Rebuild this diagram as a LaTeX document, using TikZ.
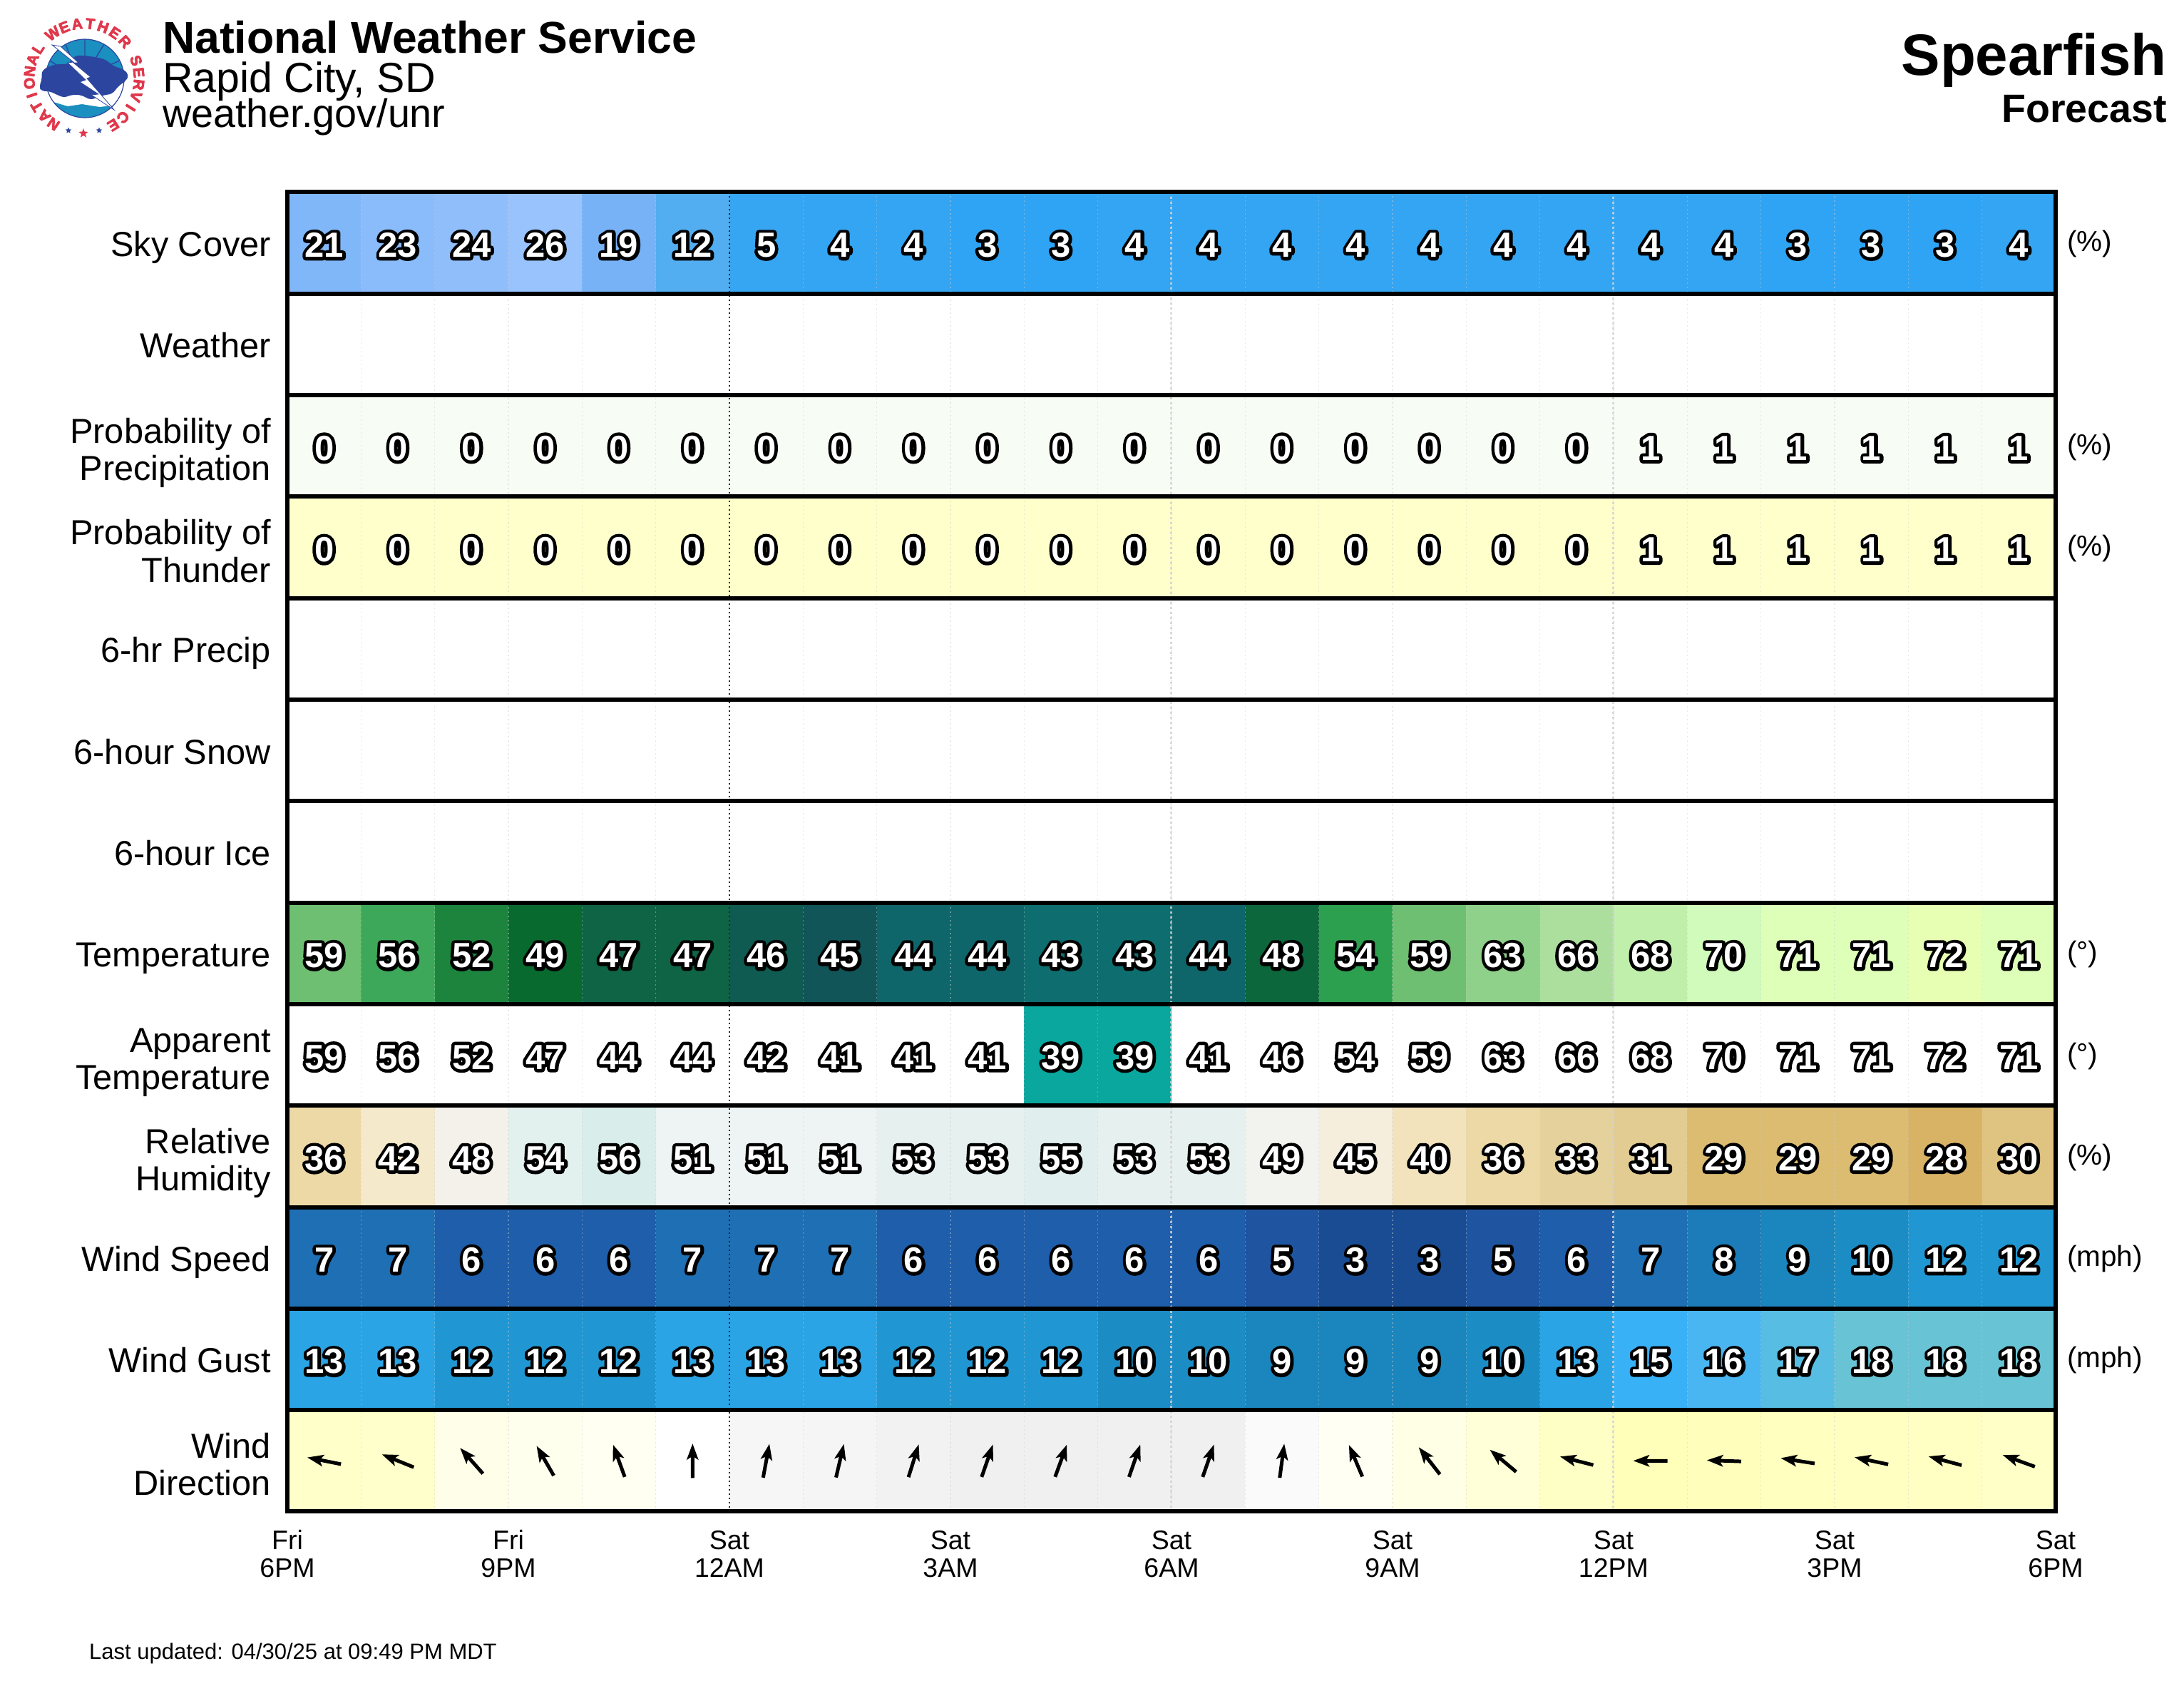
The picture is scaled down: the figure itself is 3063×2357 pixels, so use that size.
\documentclass[tikz,border=0pt]{standalone}
\usepackage{fontspec}
\usetikzlibrary{shapes.geometric}
\setmainfont{Liberation Sans}
\newfontface\numfont{Liberation Sans Bold}
\newfontface\numstroke[FakeBold=19]{Liberation Sans Bold}
\newfontface\boldface{Liberation Sans Bold}
\newfontface\logoface[FakeBold=4]{Liberation Sans Bold}
\newcommand{\fs}[1]{\fontsize{#1}{#1}\selectfont}
\newcommand{\numtxt}[1]{{\fs{49}\rlap{\color{black}\numstroke #1}\color{white}\numfont #1}}
\definecolor{sky21}{HTML}{80B7F9}\definecolor{sky23}{HTML}{8ABBFB}\definecolor{sky24}{HTML}{8FBEFB}
\definecolor{sky26}{HTML}{98C3FC}\definecolor{sky19}{HTML}{78B2F6}\definecolor{sky12}{HTML}{52AEF0}
\definecolor{sky5}{HTML}{36A6F2}\definecolor{sky4}{HTML}{33A5F3}\definecolor{sky3}{HTML}{30A4F4}
\definecolor{tmp59}{HTML}{6FBF72}\definecolor{tmp56}{HTML}{3DA85A}\definecolor{tmp52}{HTML}{1D843E}
\definecolor{tmp49}{HTML}{096A30}\definecolor{tmp47}{HTML}{0E6444}\definecolor{tmp46}{HTML}{105B51}
\definecolor{tmp45}{HTML}{115558}\definecolor{tmp44}{HTML}{0F666A}\definecolor{tmp43}{HTML}{0E6E6F}
\definecolor{tmp48}{HTML}{0C673C}\definecolor{tmp54}{HTML}{2DA050}\definecolor{tmp63}{HTML}{8FD18A}
\definecolor{tmp66}{HTML}{ACDE9E}\definecolor{tmp68}{HTML}{BFEFAB}\definecolor{tmp70}{HTML}{D0FBBA}
\definecolor{tmp71}{HTML}{DEFFB8}\definecolor{tmp72}{HTML}{E6FFB3}
\definecolor{rh36}{HTML}{EDD9A6}\definecolor{rh42}{HTML}{F4E9CB}\definecolor{rh48}{HTML}{F3F1EA}
\definecolor{rh54}{HTML}{E3F1EE}\definecolor{rh56}{HTML}{D9EDEB}\definecolor{rh51}{HTML}{EEF3F3}
\definecolor{rh53}{HTML}{E6F0EF}\definecolor{rh55}{HTML}{E0EFEE}\definecolor{rh49}{HTML}{F2F2EF}
\definecolor{rh45}{HTML}{F5EEDC}\definecolor{rh40}{HTML}{F2E3BD}\definecolor{rh33}{HTML}{E5D19C}
\definecolor{rh31}{HTML}{E2CC92}\definecolor{rh29}{HTML}{DCBC71}\definecolor{rh28}{HTML}{D8B366}
\definecolor{rh30}{HTML}{DFC380}
\definecolor{wnd3}{HTML}{1A4C93}\definecolor{wnd5}{HTML}{1F55A0}\definecolor{wnd6}{HTML}{1E5EAA}
\definecolor{wnd7}{HTML}{1F6FB4}\definecolor{wnd8}{HTML}{1C7CB9}\definecolor{wnd9}{HTML}{1B85BE}
\definecolor{wnd10}{HTML}{1C8CC5}\definecolor{wnd12}{HTML}{2097D3}\definecolor{wnd13}{HTML}{2AA4E5}
\definecolor{wnd15}{HTML}{38B1F7}\definecolor{wnd16}{HTML}{4AB6F1}\definecolor{wnd17}{HTML}{58BDE2}
\definecolor{wnd18}{HTML}{68C4D5}
\definecolor{popc}{HTML}{F7FCF5}\definecolor{thuc}{HTML}{FFFFCC}\definecolor{appteal}{HTML}{0AA79E}
\definecolor{logored}{HTML}{E0384C}\definecolor{logoblue}{HTML}{2C469F}\definecolor{logoteal}{HTML}{1A8FC0}
\newcommand{\colx}[1]{403+103.33*(#1)}
\newcommand{\rowy}[1]{269.5+142.3*(#1)}
\newcommand{\rowfill}[3]{\foreach \v [count=\c] in {#3}{%
  \fill[fill=#2\v] ({\colx{\c-1}},{\rowy{#1-1}}) rectangle ({\colx{\c}},{\rowy{#1}});}}
\newcommand{\rownums}[2]{\foreach \v [count=\c] in {#2}{%
  \node[numnode] (n#1-\c) at ({\colx{\c-0.5}},{\rowy{#1-0.5}+20}) {\numtxt{\v}};}}
\newcommand{\rowlabel}[3]{\node[rowlab] (lab#1) at (380,{\rowy{#1-0.5}+19}) {#2};}
\newcommand{\rowlabeltwo}[3]{\node[rowlab] (lab#1a) at (380,{\rowy{#1-0.5}-4}) {#2};
  \node[rowlab] (lab#1b) at (380,{\rowy{#1-0.5}+48.5}) {#3};}
\newcommand{\unitlab}[2]{\node[unitlabel] (unit#1) at (2899,{\rowy{#1-0.5}+12}) {#2};}
\newcommand{\ticklab}[3]{\node[ticklabel] (tickd#1) at ({\colx{#1}},2172) {#2};
  \node[ticklabel] (tickt#1) at ({\colx{#1}},2211) {#3};}
\tikzset{
  numnode/.style={anchor=base,inner sep=0pt,outer sep=0pt},
  rowlab/.style={anchor=base east,inner sep=0pt,font=\fs{48.7}},
  unitlabel/.style={anchor=base west,inner sep=0pt,font=\fs{40.5}},
  ticklabel/.style={anchor=base,inner sep=0pt,font=\fs{37.5}},
  hourline/.style={draw=lightgray!80,line width=1.5pt,dash pattern=on 2pt off 4pt,opacity=.45},
  midline/.style={draw=black!85,line width=2pt,dash pattern=on 2pt off 4pt},
  sixline/.style={draw=lightgray!70,line width=3pt,dash pattern=on 3pt off 4pt,opacity=.8},
  rowline/.style={draw=black,line width=6pt},
  logoletter/.style={text=logored,inner sep=0pt,font=\logoface\fs{21}},
}
\begin{document}
\begin{tikzpicture}[x=1pt,y=-1pt,line join=round]
\useasboundingbox (0,0) rectangle (3063,2357);
\fill[white] (0,0) rectangle (3063,2357);
% logo
\begin{scope}
 \clip (119,110) circle (55);
 \fill[logoteal] (119,110) circle (55);
 \fill[white] (60,122) -- (178,110) -- (178,130) -- (165,147) -- (140,150) -- (115,146) -- (95,149) -- (75,143) -- (60,140) -- cycle;
 \draw[logoblue,line width=1.4pt] (119,55) -- (119,85) (92,62) -- (101,85) (146,62) -- (132,85) (70,85) -- (85,95) (168,85) -- (152,92);
\end{scope}
\draw[logoblue,line width=1.2pt] (119,110) circle (55);
\fill[logoblue,rounded corners=5pt] (55,122) -- (59,110) -- (58,100) -- (68,93) -- (80,90) -- (95,90) -- (105,78) -- (120,78) -- (133,80) -- (147,83) -- (160,93) -- (173,97) -- (181,105) -- (177,113) -- (167,120) -- (157,132) -- (147,133) -- (127,140) -- (113,133) -- (100,133) -- (90,137) -- (80,133) -- (70,128) -- (58,128) -- cycle;
\filldraw[fill=white,draw=logoblue,line width=.8pt,line join=miter] (73,63) -- (85,65) -- (110,88) -- (103,88) -- (127,108) -- (122,110) -- (160,154) -- (128,133) -- (138,132) -- (112,115) -- (120,112) -- (95,88) -- (103,87) -- cycle;
\foreach \a/\l [count=\i] in {-146/N,-133.3/A,-120.6/T,-107.9/I,-95.2/O,-82.5/N,-69.8/A,-57/L,-35/W,-21.2/E,-7.4/A,6.4/T,20.2/H,34/E,48/R,71/S,83.8/E,96.6/R,109.4/V,122.2/I,135/C,148/E}{
  \node[logoletter,rotate=-\a] (logo\i) at ({118+77*sin(\a)},{110-77*cos(\a)}) {\l};}
\node[star,star points=5,star point ratio=2.4,fill=logored,inner sep=0pt,minimum size=14pt] (starc) at (117,187) {};
\node[star,star points=5,star point ratio=2.2,fill=logoblue,inner sep=0pt,minimum size=9pt] (starl) at (96,183) {};
\node[star,star points=5,star point ratio=2.2,fill=logoblue,inner sep=0pt,minimum size=9pt] (starr) at (139,183) {};
% titles
\node[anchor=base west,inner sep=0pt,font=\boldface\fs{62.5}] (nws) at (228,75) {National Weather Service};
\node[anchor=base west,inner sep=0pt,font=\fs{59}] (office) at (228,130) {Rapid City, SD};
\node[anchor=base west,inner sep=0pt,font=\fs{55.7}] (web) at (228,179) {weather.gov/unr};
\node[anchor=base east,inner sep=0pt,font=\boldface\fs{81.7}] (place) at (3039,106) {Spearfish};
\node[anchor=base east,inner sep=0pt,font=\boldface\fs{55.5}] (fcst) at (3039,172) {Forecast};
% cells
\rowfill{1}{sky}{21,23,24,26,19,12,5,4,4,3,3,4,4,4,4,4,4,4,4,4,3,3,3,4}
\fill[popc] ({\colx{0}},{\rowy{2}}) rectangle ({\colx{24}},{\rowy{3}});
\fill[thuc] ({\colx{0}},{\rowy{3}}) rectangle ({\colx{24}},{\rowy{4}});
\rowfill{8}{tmp}{59,56,52,49,47,47,46,45,44,44,43,43,44,48,54,59,63,66,68,70,71,71,72,71}
\fill[appteal] ({\colx{10}},{\rowy{8}}) rectangle ({\colx{12}},{\rowy{9}});
\rowfill{10}{rh}{36,42,48,54,56,51,51,51,53,53,55,53,53,49,45,40,36,33,31,29,29,29,28,30}
\rowfill{11}{wnd}{7,7,6,6,6,7,7,7,6,6,6,6,6,5,3,3,5,6,7,8,9,10,12,12}
\rowfill{12}{wnd}{13,13,12,12,12,13,13,13,12,12,12,10,10,9,9,9,10,13,15,16,17,18,18,18}
\foreach \h [count=\c] in {FFFFC9,FFFFCB,FFFFE9,FFFFED,FFFFF2,FFFFFF,F6F6F6,F5F5F5,F2F2F2,F0F0F0,F0F0F0,F0F0F0,F0F0F0,FAFAFA,FFFFF4,FFFFE6,FFFFD8,FDFFC4,FFFFBA,FFFFBB,FFFFC0,FFFFC2,FFFFC4,FFFFC8}{
  \definecolor{dirc}{HTML}{\h}
  \fill[dirc] ({\colx{\c-1}},{\rowy{12}}) rectangle ({\colx{\c}},{\rowy{13}});}
% grid
\foreach \k in {1,...,23}{\draw[hourline] ({\colx{\k}},{\rowy{0}}) -- ({\colx{\k}},{\rowy{13}});}
\foreach \k in {12,18}{\draw[sixline] ({\colx{\k}},{\rowy{0}}) -- ({\colx{\k}},{\rowy{13}});}
\draw[midline] ({\colx{6}},{\rowy{0}}) -- ({\colx{6}},{\rowy{13}});
% rows and frame
\foreach \r in {1,...,12}{\draw[rowline] ({\colx{0}},{\rowy{\r}}) -- ({\colx{24}},{\rowy{\r}});}
\draw[rowline,line join=miter] ({\colx{0}},{\rowy{0}}) rectangle ({\colx{24}},{\rowy{13}});
% numbers
\rownums{1}{21,23,24,26,19,12,5,4,4,3,3,4,4,4,4,4,4,4,4,4,3,3,3,4}
\rownums{3}{0,0,0,0,0,0,0,0,0,0,0,0,0,0,0,0,0,0,1,1,1,1,1,1}
\rownums{4}{0,0,0,0,0,0,0,0,0,0,0,0,0,0,0,0,0,0,1,1,1,1,1,1}
\rownums{8}{59,56,52,49,47,47,46,45,44,44,43,43,44,48,54,59,63,66,68,70,71,71,72,71}
\rownums{9}{59,56,52,47,44,44,42,41,41,41,39,39,41,46,54,59,63,66,68,70,71,71,72,71}
\rownums{10}{36,42,48,54,56,51,51,51,53,53,55,53,53,49,45,40,36,33,31,29,29,29,28,30}
\rownums{11}{7,7,6,6,6,7,7,7,6,6,6,6,6,5,3,3,5,6,7,8,9,10,12,12}
\rownums{12}{13,13,12,12,12,13,13,13,12,12,12,10,10,9,9,9,10,13,15,16,17,18,18,18}
% wind arrows
\foreach \a [count=\c] in {168.7,158,131.6,120,110,90,79.5,76.8,72.5,70.8,70,70.8,70.8,82.4,113,128,140,165.7,180,178,171,168,165,160}{
 \begin{scope}[shift={({\colx{\c-0.5}},{\rowy{12.5}})},rotate=\a]
  \fill[black,line join=miter] (-24,-2.5) -- (5,-2.5) -- (1,-8.5) -- (24,0) -- (1,8.5) -- (5,2.5) -- (-24,2.5) -- cycle;
 \end{scope}}
% labels
\rowlabel{1}{Sky Cover}{}
\rowlabel{2}{Weather}{}
\rowlabeltwo{3}{Probability of}{Precipitation}
\rowlabeltwo{4}{Probability of}{Thunder}
\rowlabel{5}{6-hr Precip}{}
\rowlabel{6}{6-hour Snow}{}
\rowlabel{7}{6-hour Ice}{}
\rowlabel{8}{Temperature}{}
\rowlabeltwo{9}{Apparent}{Temperature}
\rowlabeltwo{10}{Relative}{Humidity}
\rowlabel{11}{Wind Speed}{}
\rowlabel{12}{Wind Gust}{}
\rowlabeltwo{13}{Wind}{Direction}
\unitlab{1}{(\%)}\unitlab{3}{(\%)}\unitlab{4}{(\%)}\unitlab{8}{(°)}\unitlab{9}{(°)}\unitlab{10}{(\%)}\unitlab{11}{(mph)}\unitlab{12}{(mph)}
\ticklab{0}{Fri}{6PM}\ticklab{3}{Fri}{9PM}\ticklab{6}{Sat}{12AM}\ticklab{9}{Sat}{3AM}\ticklab{12}{Sat}{6AM}\ticklab{15}{Sat}{9AM}\ticklab{18}{Sat}{12PM}\ticklab{21}{Sat}{3PM}\ticklab{24}{Sat}{6PM}
\node[anchor=base west,inner sep=0pt,font=\fs{31}] (upd) at (125,2326) {Last updated: 04/30/25 at 09:49 PM MDT};
\end{tikzpicture}
\end{document}
